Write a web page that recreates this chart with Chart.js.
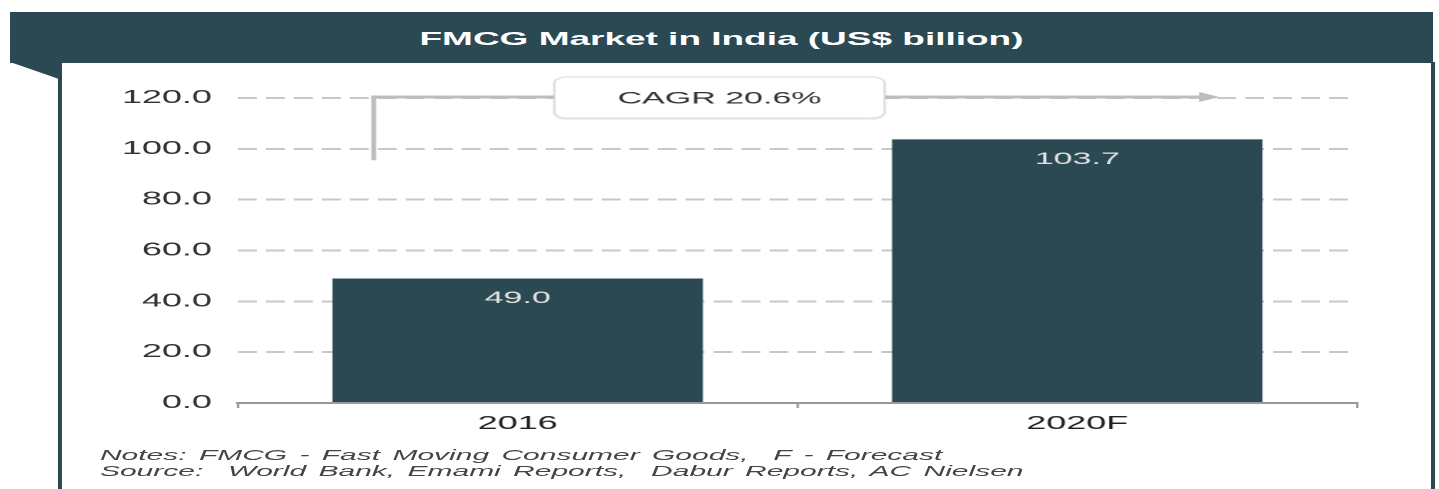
<!DOCTYPE html>
<html>
<head>
<meta charset="utf-8">
<script src="https://cdn.jsdelivr.net/npm/chart.js@4"></script>
<style>
  html, body { margin: 0; padding: 0; background: #fff; overflow: hidden; }
  /* the source picture is stretched about 2x sideways, so draw at 720 wide and stretch */
  #wrap { position: absolute; left: 0; top: 0; width: 720px; height: 489px;
          transform: scaleX(1.99861); transform-origin: 0 0; }
  #head { position: absolute; left: 5px; top: 12px; width: 712px; height: 51px; background: #2b4952;
          color: #fff; font: bold 18.5px "Liberation Sans", Arial, sans-serif; text-align: center; line-height: 54px; }
  #fold { position: absolute; left: 5px; top: 62px; width: 26px; height: 18px; background: #2b4952;
          clip-path: polygon(0 0, 100% 0, 100% 100%); }
  .side { position: absolute; top: 62px; width: 2px; height: 427px; background: #2b4952; }
  #c { position: absolute; left: 0; top: 0; }
  #notes { position: absolute; left: 50px; top: 447px; font: italic 15px "Liberation Sans", Arial, sans-serif;
           line-height: 16px; color: #444; word-spacing: 2px; }
</style>
</head>
<body>
<div id="wrap">
  <div id="head">FMCG Market in India (US$ billion)</div>
  <div id="fold"></div>
  <div class="side" style="left:29px"></div>
  <div class="side" style="left:716px"></div>
  <canvas id="c" width="720" height="489"></canvas>
  <div id="notes">Notes: FMCG - Fast Moving Consumer Goods, &nbsp;F - Forecast<br>Source: &nbsp;World Bank, Emami Reports, &nbsp;Dabur Reports, AC Nielsen</div>
</div>
<script>
// Data
const categories = ['2016', '2020F'];
const marketSize = [49.0, 103.7];
const yTicks = [0, 20, 40, 60, 80, 100, 120];
const cagrLabel = 'CAGR 20.6%';

const barColor = '#2b4952';
const font = '"Liberation Sans", Arial, sans-serif';

// values inside bars + CAGR arrow and box
const extras = {
    id: 'extras',
    afterDatasetsDraw(chart) {
        const ctx = chart.ctx;
        const meta = chart.getDatasetMeta(0);
        ctx.save();
        ctx.font = '17px ' + font;
        ctx.fillStyle = '#e4e4e4';
        ctx.textAlign = 'center';
        ctx.textBaseline = 'middle';
        meta.data.forEach((bar, i) => {
            ctx.fillText(marketSize[i].toFixed(1), bar.x, bar.y + 20);
        });
        ctx.restore();
    },
    afterDraw(chart) {
        const ctx = chart.ctx;
        const xs = chart.scales.x, ys = chart.scales.y;
        const left = chart.chartArea.left;
        const yTop = ys.getPixelForValue(120) - 1;
        const xV = xs.getPixelForValue(0) - 72;
        const boxL = left + 158.5, boxR = left + 323.5;
        const tip = left + 491;
        ctx.save();
        ctx.strokeStyle = '#bdbdbd';
        ctx.fillStyle = '#bdbdbd';
        // vertical stem
        ctx.lineWidth = 2.4;
        ctx.beginPath();
        ctx.moveTo(xV, ys.getPixelForValue(95.5));
        ctx.lineTo(xV, yTop - 1.5);
        ctx.stroke();
        // horizontal line
        ctx.lineWidth = 3;
        ctx.beginPath();
        ctx.moveTo(xV - 1.2, yTop);
        ctx.lineTo(boxL, yTop);
        ctx.moveTo(boxR, yTop);
        ctx.lineTo(tip - 9, yTop);
        ctx.stroke();
        ctx.beginPath();
        ctx.moveTo(tip, yTop);
        ctx.lineTo(tip - 10, yTop - 5);
        ctx.lineTo(tip - 10, yTop + 5);
        ctx.closePath();
        ctx.fill();
        // box
        ctx.shadowColor = 'rgba(0,0,0,0.18)';
        ctx.shadowBlur = 4;
        ctx.shadowOffsetY = 2;
        ctx.fillStyle = '#fff';
        ctx.beginPath();
        ctx.roundRect(boxL, yTop - 20, boxR - boxL, 41, 6);
        ctx.fill();
        ctx.shadowColor = 'transparent';
        ctx.strokeStyle = '#dcdcdc';
        ctx.lineWidth = 1;
        ctx.stroke();
        ctx.fillStyle = '#333';
        ctx.font = '17px ' + font;
        ctx.textAlign = 'center';
        ctx.textBaseline = 'middle';
        ctx.fillText(cagrLabel, (boxL + boxR) / 2, yTop + 2);
        ctx.restore();
    }
};

new Chart(document.getElementById('c'), {
    type: 'bar',
    data: {
        labels: categories,
        datasets: [{
            data: marketSize,
            backgroundColor: barColor,
            barPercentage: 0.662,
            categoryPercentage: 1
        }]
    },
    options: {
        responsive: false,
        animation: false,
        devicePixelRatio: 2,
        layout: { padding: { left: 0, right: 41, top: 98, bottom: 0 } },
        plugins: { legend: { display: false }, tooltip: { enabled: false }, title: { display: false } },
        scales: {
            x: {
                afterFit: s => { s.height = 86; },
                grid: { drawOnChartArea: false, drawTicks: true, tickLength: 5, color: '#999', lineWidth: 1.2 },
                border: { display: true, color: '#999', width: 2 },
                ticks: { color: '#222', padding: 5, font: { family: font, size: 18 } }
            },
            y: {
                min: 0,
                max: 120,
                afterFit: s => { s.width = 119; },
                afterBuildTicks: s => { s.ticks = yTicks.map(v => ({ value: v })); },
                grid: { drawTicks: false, color: '#c8c8c8', lineWidth: 2 },
                border: { display: false, dash: [9.5, 4.5] },
                ticks: { color: '#333', padding: 13, font: { family: font, size: 18 },
                         callback: v => v.toFixed(1) }
            }
        }
    },
    plugins: [extras]
});
</script>
</body>
</html>
